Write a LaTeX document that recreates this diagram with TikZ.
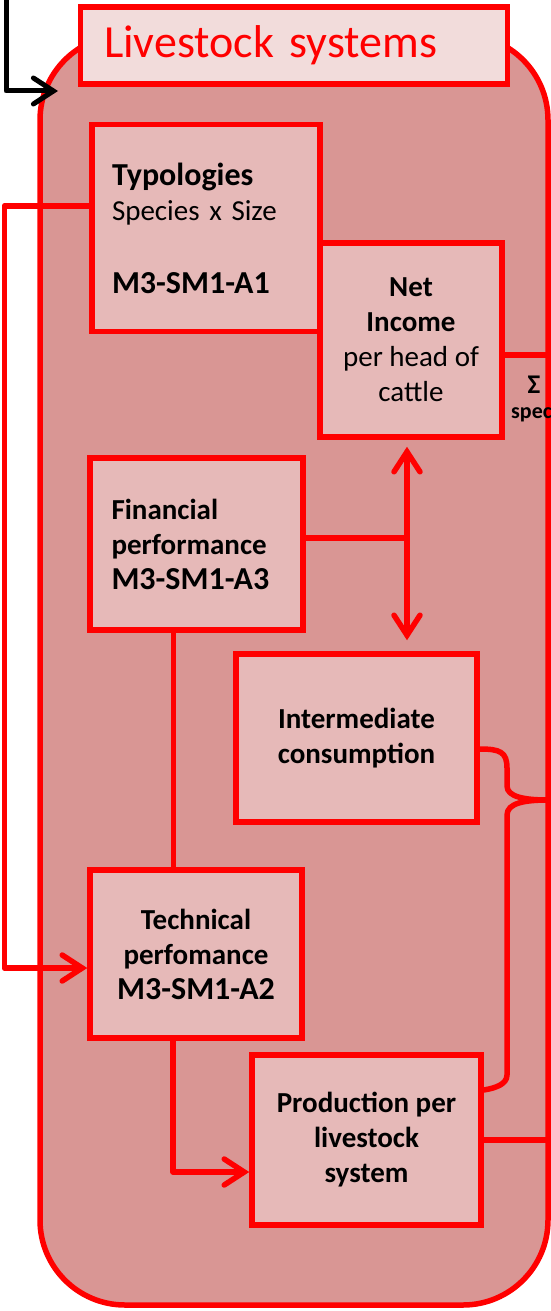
\documentclass[tikz,border=0pt]{standalone}
\usepackage{fontspec}
\setmainfont{Carlito}
\usetikzlibrary{arrows.meta,calc}
\definecolor{sysfill}{RGB}{217,150,148}
\definecolor{boxfill}{RGB}{230,185,184}
\definecolor{titlefill}{RGB}{242,220,219}
\definecolor{lred}{RGB}{255,0,0}
\newcommand{\codefont}{\fontsize{32}{35}\selectfont\bfseries}
\begin{document}
\begin{tikzpicture}[x=1pt,y=-1pt,
  every node/.style={font=\fontsize{29}{35}\selectfont},
  sysbox/.style={draw=lred, fill=sysfill, line width=5.5pt, rounded corners=85pt, inner sep=0pt},
  stepbox/.style={draw=lred, fill=boxfill, line width=5.5pt, inner sep=0pt, align=center},
  titlebox/.style={draw=lred, fill=titlefill, line width=5.5pt, inner sep=0pt, text=lred,
     font=\fontsize{46}{50}\selectfont, align=left, text width=380pt},
  conn/.style={draw=lred, line width=5.5pt, line join=round},
  tip/.style={-{Straight Barb[length=20pt,width=26pt,line cap=round]}},
  dtip/.style={{Straight Barb[length=20pt,width=26pt,line cap=round]}-{Straight Barb[length=20pt,width=26pt,line cap=round]}},
  small/.style={font=\fontsize{22}{24}\selectfont\bfseries, inner sep=0pt},
]
\useasboundingbox (0,0) rectangle (551,1311);

% container
\node[sysbox, minimum width=508pt, minimum height=1270pt] (sys) at (294,670) {};

% black incoming arrow
\coordinate (bstart) at (6,-5);
\coordinate (bend) at (58,91);
\draw[line width=5pt, black, line join=round, tip] (bstart) |- (bend);

% title
\node[titlebox, minimum width=427pt, minimum height=77pt] (title) at (294,45.5) {Livestock systems};

% boxes
\node[stepbox, minimum width=228pt, minimum height=207pt, text width=188pt, align=left] (typ) at (206,228)
  {{\codefont Typologies}\\Species x Size\\[38pt]{\codefont M3-SM1-A1}};
\node[stepbox, minimum width=182pt, minimum height=194pt] (net) at (411,340)
  {\textbf{Net}\\\textbf{Income}\\per head of\\cattle};
\node[stepbox, minimum width=213pt, minimum height=172pt, text width=170pt, align=left, font=\fontsize{29}{35}\selectfont\bfseries] (fin) at (196.5,544)
  {Financial\\performance\\{\codefont M3-SM1-A3}};
\node[stepbox, minimum width=241pt, minimum height=168pt, font=\fontsize{29}{35}\selectfont\bfseries] (inter) at (356.5,738)
  {Intermediate\\consumption};
\node[stepbox, minimum width=212pt, minimum height=168pt, font=\fontsize{29}{35}\selectfont\bfseries] (tech) at (196,954)
  {Technical\\perfomance\\{\codefont M3-SM1-A2}};
\node[stepbox, minimum width=229pt, minimum height=170pt, font=\fontsize{29}{35}\selectfont\bfseries] (prod) at (366.5,1140)
  {Production per\\livestock\\system};

% sum label (cut off at the right edge, as in the original)
\node[small, font=\fontsize{27}{28}\selectfont\bfseries] (sigma) at (534,385) {Σ};
\node[small, anchor=west] (spec) at (511,413) {species};

% connectors
\coordinate (typout) at ($(typ.west)+(0,-22)$);
\coordinate (techin) at ($(tech.west)+(0,14)$);
\draw[conn, tip] (typout) -- ++(-85,0) |- (techin);

\coordinate (finout) at ($(fin.south)+(-23,0)$);
\draw[conn] (finout) -- (finout |- tech.north);

\coordinate (ax) at (407,0);
\coordinate (aup) at ($(ax |- net.south)+(0,7)$);
\coordinate (adn) at ($(ax |- inter.north)+(0,-11)$);
\draw[conn, dtip] (aup) -- (adn);

\coordinate (fineast) at ($(fin.east)+(0,-6)$);
\draw[conn] (fineast) -- (fineast -| ax);

\coordinate (techout) at ($(tech.south)+(-23,0)$);
\coordinate (prodin) at ($(prod.west)+(0,32)$);
\draw[conn, tip] (techout) |- (prodin);

\coordinate (netout) at ($(net.east)+(0,15)$);
\draw[conn] (netout) -- (netout -| sys.east);
\draw[conn] (prod.east) -- (prod.east -| sys.east);

% brace joining intermediate consumption and production to the total
\coordinate (bt) at ($(inter.east)+(0,11)$);
\coordinate (bb) at ($(prod.east)+(0,-50)$);
\coordinate (bp) at (548,800);
\draw[conn, line cap=round]
  (bt) .. controls (500,749) and (507,752) .. (507,768) -- (507,786)
       .. controls (507,797) and (525,800) .. (bp)
       .. controls (525,800) and (507,803) .. (507,815) -- (507,1075)
       .. controls (507,1084) and (496,1088) .. (bb);
\end{tikzpicture}
\end{document}
